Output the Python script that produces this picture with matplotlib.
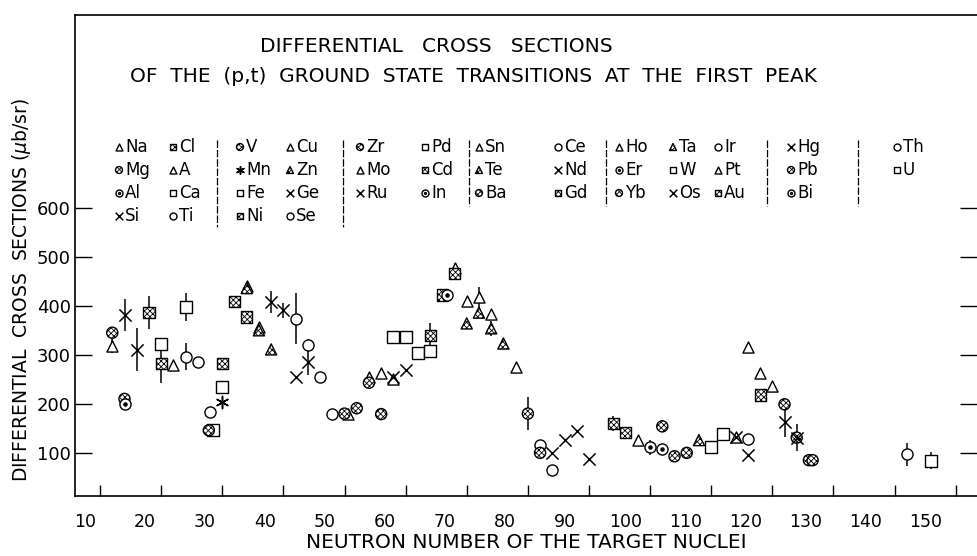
import matplotlib
matplotlib.use("Agg")
import matplotlib.pyplot as plt

plt.rcParams['font.family'] = ['DejaVu Sans']
plt.rcParams['hatch.linewidth'] = 0.6

# data: neutron number, cross section (ub/sr), error
tri_n = [12, 22, 34, 36, 50.5, 54, 56, 58, 68, 70, 72, 74, 78, 98, 114, 116, 118, 120]
tri_v = [318, 279, 440, 356, 180, 254, 263, 250, 478, 410, 418, 384, 275, 127, 133, 315, 263, 236]
tri_e = [15, 0, 0, 0, 0, 0, 0, 0, 10, 0, 20, 0, 0, 0, 0, 0, 0, 0]

trih_n = [34, 36, 38, 70, 72, 74, 76, 108]
trih_v = [436, 350, 311, 364, 386, 354, 323, 126]
trih_e = [0, 0, 0, 0, 0, 15, 0, 0]

sq_n = [20, 24, 28.5, 30, 58, 60, 62, 64, 110, 112, 146]
sq_v = [323, 397, 146, 235, 337, 337, 304, 308, 111, 138, 84]
sq_e = [0, 28, 0, 0, 8, 0, 0, 0, 0, 8, 17]

sqh_n = [18, 20, 30, 32, 34, 64, 66, 68, 94, 96, 118]
sqh_v = [386, 282, 282, 408, 377, 340, 422, 466, 160, 142, 218]
sqh_e = [33, 40, 0, 0, 0, 25, 0, 12, 15, 0, 0]

ci_n = [24, 26, 28, 42, 44, 46, 48, 82, 84, 116, 142]
ci_v = [296, 286, 184, 374, 320, 255, 179, 117, 65, 129, 97]
ci_e = [28, 0, 10, 53, 12, 10, 0, 0, 0, 10, 24]

cih_n = [12, 14, 27.8, 50, 52, 54, 56, 80, 82, 102, 104, 106, 122, 124, 126, 126.6]
cih_v = [345, 210, 146, 180, 191, 243, 179, 180, 100, 154, 93, 100, 199, 131, 85, 85]
cih_e = [0, 0, 0, 0, 0, 0, 0, 34, 0, 12, 0, 10, 0, 0, 0, 0]

cid_n = [14, 66.8, 100, 102]
cid_v = [200, 422, 111, 107]
cid_e = [0, 0, 15, 12]

x_n = [14, 16, 38, 40, 42, 44, 58, 60, 84, 86, 88, 90, 114, 116, 122, 124]
x_v = [381, 310, 408, 391, 255, 286, 255, 269, 100, 126, 145, 87, 133, 95, 163, 131]
x_e = [33, 44, 22, 15, 0, 27, 0, 0, 0, 0, 0, 0, 0, 0, 30, 27]

ast_n = [30]
ast_v = [204]
ast_e = [0]

x_ticks = list(range(10, 151, 10))
y_ticks = [100, 200, 300, 400, 500, 600]

# legend columns (top to bottom), symbol kind + element
legend_cols = [
    [('tri', 'Na'), ('cih', 'Mg'), ('cid', 'Al'), ('x', 'Si')],
    [('sqh', 'Cl'), ('tri', 'A'), ('sq', 'Ca'), ('ci', 'Ti')],
    [('cih', 'V'), ('ast', 'Mn'), ('sq', 'Fe'), ('sqh', 'Ni')],
    [('tri', 'Cu'), ('trih', 'Zn'), ('x', 'Ge'), ('ci', 'Se')],
    [('cih', 'Zr'), ('tri', 'Mo'), ('x', 'Ru')],
    [('sq', 'Pd'), ('sqh', 'Cd'), ('cid', 'In')],
    [('tri', 'Sn'), ('trih', 'Te'), ('cih', 'Ba')],
    [('ci', 'Ce'), ('x', 'Nd'), ('sqh', 'Gd')],
    [('tri', 'Ho'), ('cid', 'Er'), ('cih', 'Yb')],
    [('trih', 'Ta'), ('sq', 'W'), ('x', 'Os')],
    [('ci', 'Ir'), ('tri', 'Pt'), ('sqh', 'Au')],
    [('x', 'Hg'), ('cih', 'Pb'), ('cid', 'Bi')],
    [('ci', 'Th'), ('sq', 'U')],
]

MARK = {'tri': '^', 'trih': '^', 'sq': 's', 'sqh': 's', 'ci': 'o',
        'cih': 'o', 'cid': 'o', 'x': 'x', 'ast': (6, 2, 0)}


def draw_symbol(ax, n, v, kind, size, transform=None):
    kw = {}
    if transform is not None:
        kw['transform'] = transform
    if kind in ('x', 'ast'):
        ax.scatter(n, v, marker=MARK[kind], s=size ** 2 * 1.2, c='black',
                   linewidths=1.1, zorder=4, **kw)
        return
    hatch = 'xxxxxx' if kind.endswith('h') else None
    ax.scatter(n, v, marker=MARK[kind], s=size ** 2, facecolors='white',
               edgecolors='black', linewidths=1.0, hatch=hatch, zorder=3, **kw)
    if kind == 'cid':
        ax.scatter(n, v, marker='o', s=(size * 0.28) ** 2, c='black', zorder=4, **kw)


def draw_series(ax, n, v, e, kind):
    for ni, vi, ei in zip(n, v, e):
        if ei > 0:
            ax.vlines(ni, vi - ei, vi + ei, color='black', lw=1.1, zorder=2)
    draw_symbol(ax, n, v, kind, 8)


fig = plt.figure(figsize=(9.77, 5.56), dpi=100)
W, H = 977, 556
ax = fig.add_axes([75 / W, 1 - 496 / H, 902 / W, 481 / H])

draw_series(ax, tri_n, tri_v, tri_e, 'tri')
draw_series(ax, trih_n, trih_v, trih_e, 'trih')
draw_series(ax, sq_n, sq_v, sq_e, 'sq')
draw_series(ax, sqh_n, sqh_v, sqh_e, 'sqh')
draw_series(ax, ci_n, ci_v, ci_e, 'ci')
draw_series(ax, cih_n, cih_v, cih_e, 'cih')
draw_series(ax, cid_n, cid_v, cid_e, 'cid')
draw_series(ax, x_n, x_v, x_e, 'x')
draw_series(ax, ast_n, ast_v, ast_e, 'ast')

ax.set_xlim(5.9, 153.5)
ax.set_ylim(12, 993)

# tick marks on the major ticks; the printed numbers sit a bit to the left
# of their marks in the scan, so they go on unmarked minor ticks
ax.set_xticks(x_ticks)
ax.set_xticklabels([])
label_pos = [10 + (6.0 * (t - 10) - 15) / 6.11 for t in x_ticks]
ax.set_xticks(label_pos, minor=True)
ax.set_xticklabels([str(t) for t in x_ticks], minor=True, fontsize=12.5)
ax.tick_params(axis='x', which='major', direction='in', length=8, width=1)
ax.tick_params(axis='x', which='minor', length=0, pad=12)

ax.set_yticks(y_ticks)
ax.set_yticklabels([str(t) for t in y_ticks], fontsize=13)
ax.tick_params(axis='y', direction='in', length=12, width=1, pad=3,
               left=True, right=True)
ax.spines['right'].set_visible(False)
for s in ['left', 'bottom', 'top']:
    ax.spines[s].set_linewidth(1.2)

ax.set_xlabel('NEUTRON NUMBER OF THE TARGET NUCLEI', fontsize=14.5, labelpad=2)
fig.text(22 / W, 1 - 290 / H, r'DIFFERENTIAL  CROSS  SECTIONS ($\mu$b/sr)',
         rotation=90, ha='center', va='center', fontsize=13.5)

fig.text(436 / W, 1 - 46 / H, 'DIFFERENTIAL   CROSS   SECTIONS',
         ha='center', va='center', fontsize=14.5)
fig.text(473 / W, 1 - 77 / H,
         'OF  THE  (p,t)  GROUND  STATE  TRANSITIONS  AT  THE  FIRST  PEAK',
         ha='center', va='center', fontsize=14.5)

# legend block, pixel layout converted to axes fraction
col_px = [119, 173, 240, 290, 360, 425, 479, 558, 619, 673, 718, 791, 897]
row_px = [147, 170, 193, 216]
sep_px = [217, 343, 469, 606, 767, 858]
sep_bottom = [227, 227, 206, 206, 206, 206]


def fx(px):
    return (px - 75) / 902


def fy(py):
    return (496 - py) / 481


for cx, col in zip(col_px, legend_cols):
    for ry, (kind, name) in zip(row_px, col):
        draw_symbol(ax, [fx(cx)], [fy(ry)], kind, 5, transform=ax.transAxes)
        ax.text(fx(cx + 6), fy(ry), name, transform=ax.transAxes,
                ha='left', va='center', fontsize=12)

for sx, sb in zip(sep_px, sep_bottom):
    ax.plot([fx(sx), fx(sx)], [fy(140), fy(sb)], transform=ax.transAxes,
            color='black', lw=0.9, ls=(0, (6, 1.5)))

fig.savefig('out.png', dpi=100)
